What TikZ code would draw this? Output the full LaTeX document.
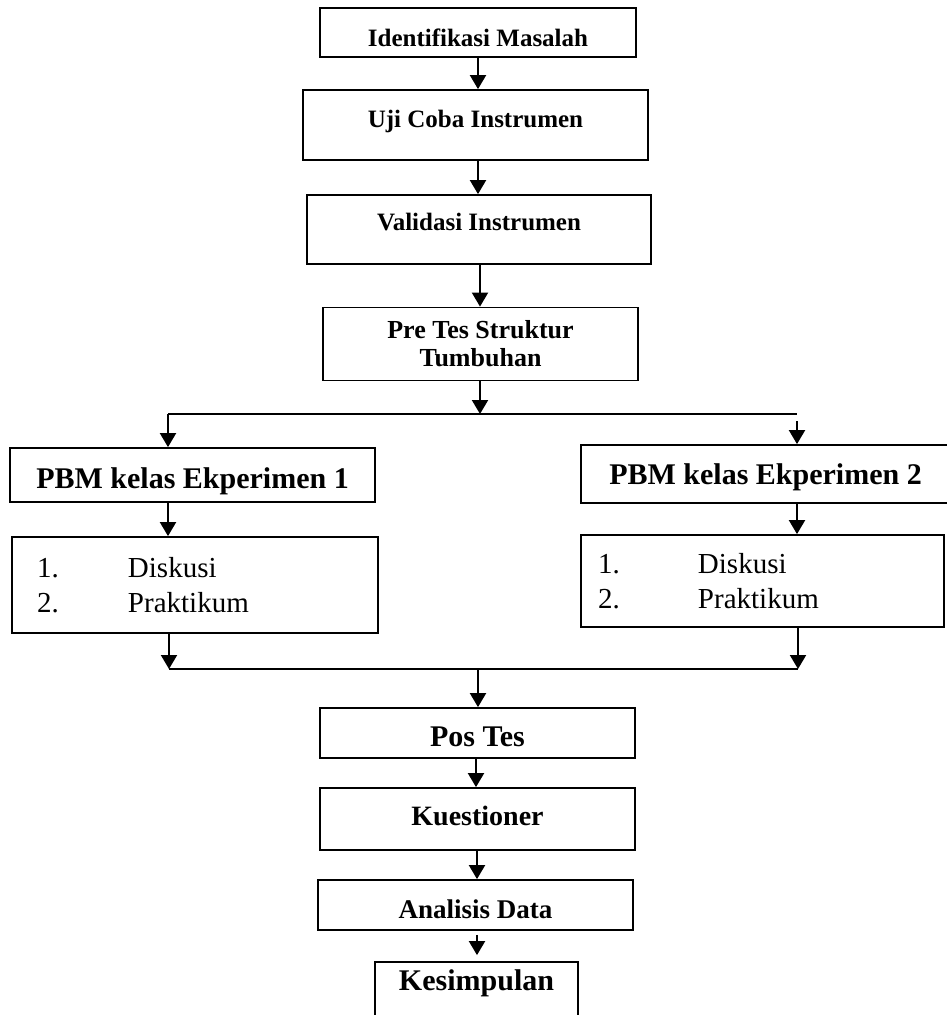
\documentclass[tikz,border=0pt]{standalone}
\usepackage{fontspec}
\setmainfont{Liberation Serif}
\usetikzlibrary{arrows.meta}

\tikzset{
  box/.style={draw, line width=1.8pt, inner sep=0pt},
  tx/.style={font=\bfseries\fontsize{#1}{#1}\selectfont},
  lst/.style={font=\fontsize{29}{35}\selectfont, align=left},
  txtdown/.style={text height=#1, text depth=0pt},
  txtup/.style={text height=0pt, text depth=#1},
  arr/.style={line width=2pt, -{Triangle[length=14pt,width=16pt]}},
  ln/.style={line width=2pt}
}

\begin{document}
\begin{tikzpicture}[x=1pt,y=-1pt]
	%%%%% PAGE %%%%%
	\path[use as bounding box, clip] (0,0) rectangle (947,1015);
	
	%%%%% BOXES %%%%%
	\node[box, tx=25, minimum width=316pt, minimum height=49pt, txtdown=28pt] (ident) at (478,32.5) {Identifikasi Masalah};
	\node[box, tx=25, minimum width=345pt, minimum height=70pt, txtdown=4pt] (uji) at (475.5,125) {Uji Coba Instrumen};
	\node[box, tx=25, minimum width=344pt, minimum height=69pt, txtdown=1pt] (valid) at (479,229.5) {Validasi Instrumen};
	\node[box, font=\bfseries\fontsize{26}{28}\selectfont, align=center, minimum width=315pt, minimum height=73pt] (pretes) at (480.5,344) {Pre Tes Struktur\\Tumbuhan};
	
	\node[box, tx=30, minimum width=365pt, minimum height=54pt, txtdown=26pt] (pbmA) at (192.5,475) {PBM kelas Ekperimen 1};
	\node[box, tx=30, minimum width=369pt, minimum height=58pt, txtdown=20pt] (pbmB) at (765.5,474) {PBM kelas Ekperimen 2};
	
	\node[box, lst, text width=316pt, inner xsep=25pt, minimum height=96pt] (diskA) at (195,585)
		{\makebox[91pt][l]{1.}Diskusi\\\makebox[91pt][l]{2.}Praktikum};
	\node[box, lst, text width=329pt, inner xsep=17pt, minimum height=92pt] (diskB) at (762.5,581)
		{\makebox[100pt][l]{1.}Diskusi\\\makebox[100pt][l]{2.}Praktikum};
	
	\node[box, tx=30, minimum width=315pt, minimum height=50pt, txtdown=27pt] (postes) at (477.5,733) {Pos Tes};
	\node[box, tx=28, minimum width=315pt, minimum height=62pt, txtdown=12pt] (kues) at (477.5,819) {Kuestioner};
	\node[box, tx=27, minimum width=315pt, minimum height=50pt, txtdown=26pt] (anal) at (475.5,905) {Analisis Data};
	\node[box, tx=30, minimum width=203pt, minimum height=68pt, txtup=12pt] (kesim) at (476.5,996) {Kesimpulan};
	
	%%%%% JOINTS %%%%%
	\coordinate (forkL) at (168,414);
	\coordinate (forkR) at (797,414);
	\coordinate (joinL) at (169,669);
	\coordinate (joinR) at (798,669);
	
	%%%%% ARROWS %%%%%
	\draw[arr] (ident.south -| 478,0) -- (uji.north -| 478,0);
	\draw[arr] (uji.south -| 478,0) -- (valid.north -| 478,0);
	\draw[arr] (valid.south -| 480,0) -- (pretes.north -| 480,0);
	\draw[arr] (pretes.south -| 480,0) -- (forkL -| 480,0);
	\draw[ln] (forkL) -- (forkR);
	\draw[arr] (forkL) -- (forkL |- pbmA.north);
	\draw[arr] ([yshift=-7pt]forkR) -- (forkR |- pbmB.north);
	
	\draw[arr] (pbmA.south -| forkL) -- (diskA.north -| forkL);
	\draw[arr] (pbmB.south -| forkR) -- (diskB.north -| forkR);
	
	\draw[arr] (diskA.south -| joinL) -- (joinL);
	\draw[arr] (diskB.south -| joinR) -- (joinR);
	\draw[ln] (joinL) -- (joinR);
	\draw[arr] (joinL -| 478,0) -- (postes.north -| 478,0);
	
	\draw[arr] (postes.south -| 476,0) -- (kues.north -| 476,0);
	\draw[arr] (kues.south -| 477,0) -- (anal.north -| 477,0);
	\draw[arr, shorten <=4pt, shorten >=6pt] (anal.south -| 477,0) -- (kesim.north -| 477,0);
\end{tikzpicture}
\end{document}
